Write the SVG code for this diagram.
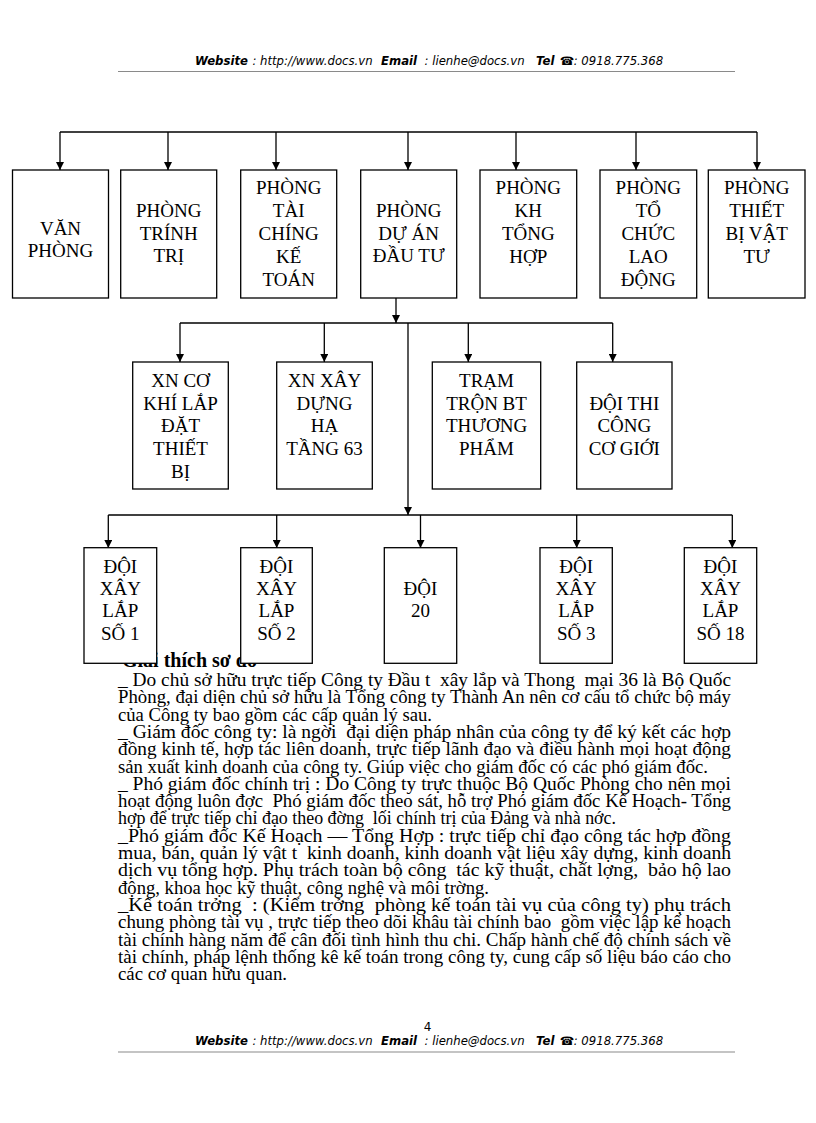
<svg xmlns="http://www.w3.org/2000/svg" width="816" height="1123" viewBox="0 0 816 1123">
<defs>
<style>
.hd{font-family:"DejaVu Sans","Liberation Sans",sans-serif;font-size:11.7px;font-style:italic;fill:#000}
.hb{font-weight:bold}
.rule{stroke:#8a8a8a;stroke-width:1.2;fill:none}
.box{fill:#fff;stroke:#000;stroke-width:1.3}
.nt{font-family:"Liberation Serif","Times New Roman",serif;font-size:19px;text-anchor:middle;fill:#000}
.cn{stroke:#000;stroke-width:1.3;fill:none}
.body{font-family:"Liberation Serif","Times New Roman",serif;font-size:19px;fill:#000;white-space:pre}
.ttl{font-family:"Liberation Serif","Times New Roman",serif;font-size:20px;font-weight:bold;fill:#000}
</style>
<marker id="ah" viewBox="0 0 10 10" refX="10" refY="5" markerWidth="9" markerHeight="8" markerUnits="userSpaceOnUse" orient="auto">
<path d="M0,0 L10,5 L0,10 z" fill="#000"/>
</marker>
</defs>
<rect width="816" height="1123" fill="#fff"/>

<g id="header">
<text class="hd hb" x="195" y="64.5">Website</text>
<text class="hd" x="252.4" y="64.5">: http://www.docs.vn</text>
<text class="hd hb" x="381" y="64.5">Email</text>
<text class="hd" x="424.5" y="64.5">: lienhe@docs.vn</text>
<text class="hd hb" x="536" y="64.5">Tel</text>
<text class="hd hb" x="559.7" y="64.5" font-style="normal">☎</text>
<text class="hd" x="573.7" y="64.5">: 0918.775.368</text>
<line class="rule" x1="118" y1="71.5" x2="735" y2="71.5"/>
</g>

<g id="explanation">
<text class="ttl" x="122" y="666.5">Giải thích sơ đồ</text>
<text class="body" x="118" y="686" textLength="613" lengthAdjust="spacingAndGlyphs">_ Do chủ sở hữu trực tiếp Công ty Đầu t  xây lắp và Thong  mại 36 là Bộ Quốc</text>
<text class="body" x="118" y="703.3" textLength="613" lengthAdjust="spacingAndGlyphs">Phòng, đại diện chủ sở hữu là Tổng công ty Thành An nên cơ cấu tổ chức bộ máy</text>
<text class="body" x="118" y="720.6" textLength="314" lengthAdjust="spacingAndGlyphs">của Công ty bao gồm các cấp quản lý sau.</text>
<text class="body" x="118" y="737.9" textLength="613" lengthAdjust="spacingAndGlyphs">_ Giám đốc công ty: là ngời  đại diện pháp nhân của công ty để ký kết các hợp</text>
<text class="body" x="118" y="755.2" textLength="613" lengthAdjust="spacingAndGlyphs">đồng kinh tế, hợp tác liên doanh, trực tiếp lãnh đạo và điều hành mọi hoạt động</text>
<text class="body" x="118" y="772.5" textLength="590" lengthAdjust="spacingAndGlyphs">sản xuất kinh doanh của công ty. Giúp việc cho giám đốc có các phó giám đốc.</text>
<text class="body" x="118" y="789.8" textLength="613" lengthAdjust="spacingAndGlyphs">_ Phó giám đốc chính trị : Do Công ty trực thuộc Bộ Quốc Phòng cho nên mọi</text>
<text class="body" x="118" y="807.1" textLength="613" lengthAdjust="spacingAndGlyphs">hoạt động luôn đợc  Phó giám đốc theo sát, hỗ trợ Phó giám đốc Kế Hoạch- Tổng</text>
<text class="body" x="118" y="824.4" textLength="498" lengthAdjust="spacingAndGlyphs">hợp để trực tiếp chỉ đạo theo đờng  lối chính trị của Đảng và nhà nớc.</text>
<text class="body" x="118" y="841.7" textLength="613" lengthAdjust="spacingAndGlyphs">_Phó giám đốc Kế Hoạch — Tổng Hợp : trực tiếp chỉ đạo công tác hợp đồng</text>
<text class="body" x="118" y="859" textLength="613" lengthAdjust="spacingAndGlyphs">mua, bán, quản lý vật t  kinh doanh, kinh doanh vật liệu xây dựng, kinh doanh</text>
<text class="body" x="118" y="876.3" textLength="613" lengthAdjust="spacingAndGlyphs">dịch vụ tổng hợp. Phụ trách toàn bộ công  tác kỹ thuật, chất lợng,  bảo hộ lao</text>
<text class="body" x="118" y="893.6" textLength="371" lengthAdjust="spacingAndGlyphs">động, khoa học kỹ thuật, công nghệ và môi trờng.</text>
<text class="body" x="118" y="910.9" textLength="613" lengthAdjust="spacingAndGlyphs">_Kế toán trởng  : (Kiểm trởng  phòng kế toán tài vụ của công ty) phụ trách</text>
<text class="body" x="118" y="928.2" textLength="613" lengthAdjust="spacingAndGlyphs">chung phòng tài vụ , trực tiếp theo dõi khâu tài chính bao  gồm việc lập kế hoạch</text>
<text class="body" x="118" y="945.5" textLength="613" lengthAdjust="spacingAndGlyphs">tài chính hàng năm để cân đối tình hình thu chi. Chấp hành chế độ chính sách về</text>
<text class="body" x="118" y="962.8" textLength="613" lengthAdjust="spacingAndGlyphs">tài chính, pháp lệnh thống kê kế toán trong công ty, cung cấp số liệu báo cáo cho</text>
<text class="body" x="118" y="980.1" textLength="169" lengthAdjust="spacingAndGlyphs">các cơ quan hữu quan.</text>
</g>

<g id="connectors">
<path class="cn" d="M60,132 H757"/>
<path class="cn" d="M60,132 V170" marker-end="url(#ah)"/>
<path class="cn" d="M168,132 V170" marker-end="url(#ah)"/>
<path class="cn" d="M276,132 V170" marker-end="url(#ah)"/>
<path class="cn" d="M408,132 V170" marker-end="url(#ah)"/>
<path class="cn" d="M516,132 V170" marker-end="url(#ah)"/>
<path class="cn" d="M636,132 V170" marker-end="url(#ah)"/>
<path class="cn" d="M757,132 V170" marker-end="url(#ah)"/>
<path class="cn" d="M396,298 V323" marker-end="url(#ah)"/>
<path class="cn" d="M180,323 H612.7"/>
<path class="cn" d="M180,323 V362" marker-end="url(#ah)"/>
<path class="cn" d="M324.3,323 V362" marker-end="url(#ah)"/>
<path class="cn" d="M468.3,323 V362" marker-end="url(#ah)"/>
<path class="cn" d="M612.7,323 V362" marker-end="url(#ah)"/>
<path class="cn" d="M408,323 V515" marker-end="url(#ah)"/>
<path class="cn" d="M108.3,515 H732.3"/>
<path class="cn" d="M108.3,515 V548" marker-end="url(#ah)"/>
<path class="cn" d="M276.7,515 V548" marker-end="url(#ah)"/>
<path class="cn" d="M420.5,515 V548" marker-end="url(#ah)"/>
<path class="cn" d="M576.7,515 V548" marker-end="url(#ah)"/>
<path class="cn" d="M732.3,515 V548" marker-end="url(#ah)"/>
</g>

<g id="van-phong"><rect class="box" x="12.5" y="170" width="96" height="128"/>
<text class="nt" x="60.5" y="235">VĂN</text><text class="nt" x="60.5" y="257">PHÒNG</text></g>
<g id="phong-chinh-tri"><rect class="box" x="120.7" y="170" width="96" height="128"/>
<text class="nt" x="168.7" y="217">PHÒNG</text><text class="nt" x="168.7" y="239.5">TRÍNH</text><text class="nt" x="168.7" y="262">TRỊ</text></g>
<g id="phong-tai-chinh"><rect class="box" x="240.7" y="170" width="96" height="128"/>
<text class="nt" x="288.7" y="194">PHÒNG</text><text class="nt" x="288.7" y="217">TÀI</text><text class="nt" x="288.7" y="240">CHÍNG</text><text class="nt" x="288.7" y="262.5">KẾ</text><text class="nt" x="288.7" y="285.5">TOÁN</text></g>
<g id="phong-du-an"><rect class="box" x="360.7" y="170" width="96" height="128"/>
<text class="nt" x="408.7" y="217">PHÒNG</text><text class="nt" x="408.7" y="239.5">DỰ ÁN</text><text class="nt" x="408.7" y="262">ĐẦU TƯ</text></g>
<g id="phong-kh"><rect class="box" x="480" y="170" width="96.7" height="128"/>
<text class="nt" x="528.3" y="194">PHÒNG</text><text class="nt" x="528.3" y="217">KH</text><text class="nt" x="528.3" y="240">TỔNG</text><text class="nt" x="528.3" y="262.5">HỢP</text></g>
<g id="phong-to-chuc"><rect class="box" x="600" y="170" width="96.7" height="128"/>
<text class="nt" x="648.3" y="194">PHÒNG</text><text class="nt" x="648.3" y="217">TỔ</text><text class="nt" x="648.3" y="240">CHỨC</text><text class="nt" x="648.3" y="262.5">LAO</text><text class="nt" x="648.3" y="285.5">ĐỘNG</text></g>
<g id="phong-thiet-bi"><rect class="box" x="708.3" y="170" width="96.7" height="128"/>
<text class="nt" x="756.7" y="194">PHÒNG</text><text class="nt" x="756.7" y="217">THIẾT</text><text class="nt" x="756.7" y="240">BỊ VẬT</text><text class="nt" x="756.7" y="262.5">TƯ</text></g>

<g id="xn-co-khi"><rect class="box" x="132.7" y="362" width="95.6" height="127"/>
<text class="nt" x="180.5" y="386.7">XN CƠ</text><text class="nt" x="180.5" y="409.5">KHÍ LẮP</text><text class="nt" x="180.5" y="432.3">ĐẶT</text><text class="nt" x="180.5" y="455">THIẾT</text><text class="nt" x="180.5" y="478">BỊ</text></g>
<g id="xn-xay-dung"><rect class="box" x="276.7" y="362" width="95.6" height="127"/>
<text class="nt" x="324.5" y="386.7">XN XÂY</text><text class="nt" x="324.5" y="409.5">DỰNG</text><text class="nt" x="324.5" y="432.3">HẠ</text><text class="nt" x="324.5" y="455">TẦNG 63</text></g>
<g id="tram-tron"><rect class="box" x="432.3" y="362" width="108.4" height="127"/>
<text class="nt" x="486.5" y="386.7">TRẠM</text><text class="nt" x="486.5" y="409.5">TRỘN BT</text><text class="nt" x="486.5" y="432.3">THƯƠNG</text><text class="nt" x="486.5" y="455">PHẨM</text></g>
<g id="doi-thi-cong"><rect class="box" x="576.7" y="362" width="95.3" height="127"/>
<text class="nt" x="624.3" y="409.5">ĐỘI THI</text><text class="nt" x="624.3" y="432.3">CÔNG</text><text class="nt" x="624.3" y="455">CƠ GIỚI</text></g>

<g id="doi-1"><rect class="box" x="84" y="547.7" width="72.7" height="115.6"/>
<text class="nt" x="120.3" y="572.7">ĐỘI</text><text class="nt" x="120.3" y="595">XÂY</text><text class="nt" x="120.3" y="617">LẮP</text><text class="nt" x="120.3" y="639.5">SỐ 1</text></g>
<g id="doi-2"><rect class="box" x="240.7" y="547.7" width="71.6" height="115.6"/>
<text class="nt" x="276.5" y="572.7">ĐỘI</text><text class="nt" x="276.5" y="595">XÂY</text><text class="nt" x="276.5" y="617">LẮP</text><text class="nt" x="276.5" y="639.5">SỐ 2</text></g>
<g id="doi-20"><rect class="box" x="384.3" y="547.7" width="72.4" height="115.6"/>
<text class="nt" x="420.5" y="595">ĐỘI</text><text class="nt" x="420.5" y="617">20</text></g>
<g id="doi-3"><rect class="box" x="540" y="547.7" width="72.3" height="115.6"/>
<text class="nt" x="576.2" y="572.7">ĐỘI</text><text class="nt" x="576.2" y="595">XÂY</text><text class="nt" x="576.2" y="617">LẮP</text><text class="nt" x="576.2" y="639.5">SỐ 3</text></g>
<g id="doi-18"><rect class="box" x="684.3" y="547.7" width="72.4" height="115.6"/>
<text class="nt" x="720.5" y="572.7">ĐỘI</text><text class="nt" x="720.5" y="595">XÂY</text><text class="nt" x="720.5" y="617">LẮP</text><text class="nt" x="720.5" y="639.5">SỐ 18</text></g>

<g id="footer">
<text x="427.5" y="1031" text-anchor="middle" font-family="DejaVu Sans, sans-serif" font-size="12px" fill="#000">4</text>
<text class="hd hb" x="195" y="1045">Website</text>
<text class="hd" x="252.4" y="1045">: http://www.docs.vn</text>
<text class="hd hb" x="381" y="1045">Email</text>
<text class="hd" x="424.5" y="1045">: lienhe@docs.vn</text>
<text class="hd hb" x="536" y="1045">Tel</text>
<text class="hd hb" x="559.7" y="1045" font-style="normal">☎</text>
<text class="hd" x="573.7" y="1045">: 0918.775.368</text>
<line class="rule" x1="118" y1="1052" x2="735" y2="1052"/>
</g>
</svg>
